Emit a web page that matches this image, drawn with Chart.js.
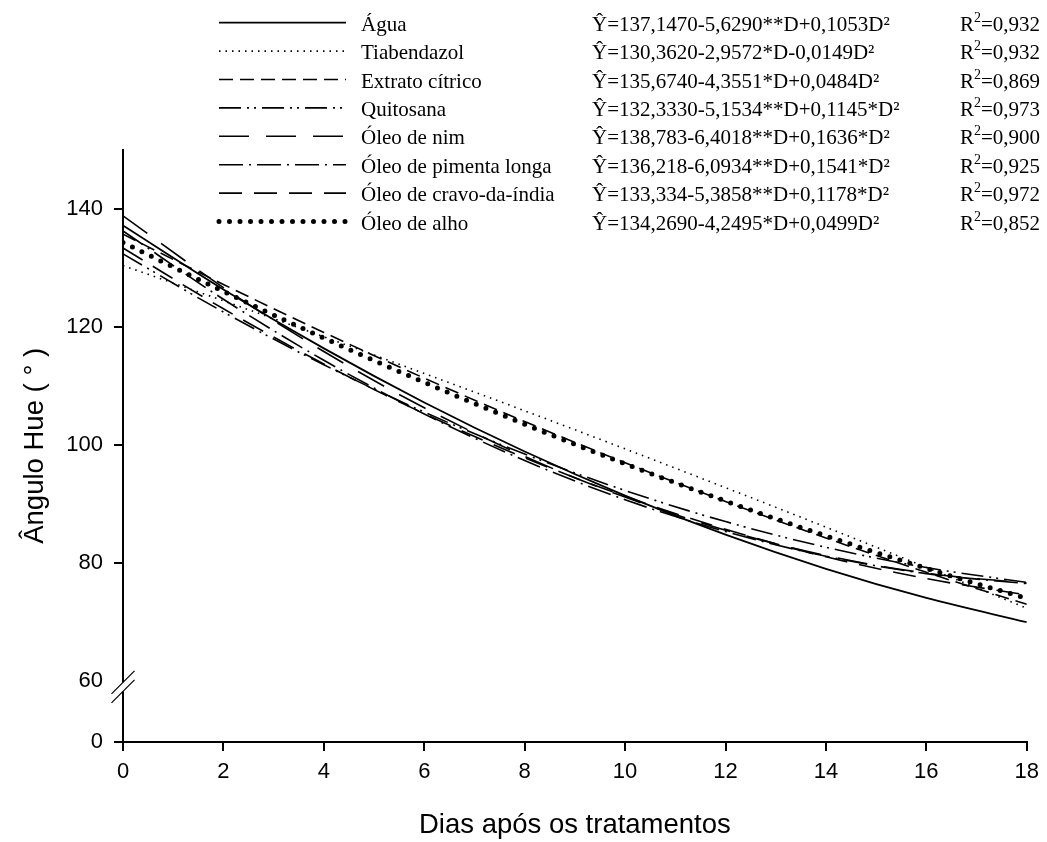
<!DOCTYPE html>
<html>
<head>
<meta charset="utf-8">
<title>Ângulo Hue</title>
<script src="https://cdn.jsdelivr.net/npm/chart.js@4.4.1/dist/chart.umd.min.js"></script>
<style>
  html, body { margin: 0; padding: 0; background: #fff; }
  #wrap { width: 1047px; height: 842px; }
</style>
</head>
<body>
<div id="wrap"><canvas id="grafico" width="1047" height="842"></canvas></div>
<script>
// dias após os tratamentos
var dias = [0, 2, 4, 6, 8, 10, 12, 14, 16, 18];

// ângulo hue ajustado de cada tratamento
var agua      = [137.15, 126.31, 116.32, 107.16, 98.85, 91.39, 84.76, 78.98, 74.04, 69.94];
var tiabend   = [130.36, 124.39, 118.29, 112.08, 105.75, 99.30, 92.73, 86.04, 79.23, 72.30];
var citrico   = [135.67, 127.16, 119.03, 111.29, 103.93, 96.96, 90.38, 84.19, 78.38, 72.96];
var quitosana = [132.33, 122.48, 113.55, 105.53, 98.43, 92.25, 86.98, 82.63, 79.19, 76.67];
var nim       = [138.78, 126.63, 115.79, 106.26, 98.04, 91.13, 85.52, 81.22, 78.24, 76.56];
var pimenta   = [136.22, 124.65, 114.31, 105.21, 97.33, 90.69, 85.29, 81.11, 78.17, 76.47];
var cravo     = [133.33, 123.03, 113.68, 105.26, 97.79, 91.26, 85.67, 81.02, 77.32, 74.56];
var alho      = [134.27, 125.97, 118.07, 110.57, 103.47, 96.76, 90.46, 84.56, 79.05, 73.95];

var series = [agua, tiabend, citrico, quitosana, nim, pimenta, cravo, alho];

var tratamentos = ['Água', 'Tiabendazol', 'Extrato cítrico', 'Quitosana', 'Óleo de nim',
                   'Óleo de pimenta longa', 'Óleo de cravo-da-índia', 'Óleo de alho'];

var equacoes = [
  'Ŷ=137,1470-5,6290**D+0,1053D²',
  'Ŷ=130,3620-2,9572*D-0,0149D²',
  'Ŷ=135,6740-4,3551*D+0,0484D²',
  'Ŷ=132,3330-5,1534**D+0,1145*D²',
  'Ŷ=138,783-6,4018**D+0,1636*D²',
  'Ŷ=136,218-6,0934**D+0,1541*D²',
  'Ŷ=133,334-5,3858**D+0,1178*D²',
  'Ŷ=134,2690-4,2495*D+0,0499D²'
];
var r2 = ['0,932', '0,932', '0,869', '0,973', '0,900', '0,925', '0,972', '0,852'];

var yTicks = [0, 60, 80, 100, 120, 140];

// estilo de traço de cada curva
var estilos = [
  { dash: [], w: 1.8, cap: 'butt' },
  { dash: [1.5, 5], w: 1.6, cap: 'butt' },
  { dash: [14, 7], w: 1.6, cap: 'butt' },
  { dash: [22, 6, 2, 5, 2, 6], w: 1.6, cap: 'butt' },
  { dash: [30, 17], w: 1.6, cap: 'butt' },
  { dash: [24, 6, 2, 6], w: 1.6, cap: 'butt' },
  { dash: [23, 12], w: 1.6, cap: 'butt' },
  { dash: [0, 10.5], w: 5, cap: 'round' }
];

// eixo y quebrado: de 0 a 60 comprimido, acima de 60 normal
var QUEBRA = 60;
var BASE = 49.64;
function escala(v) { return v >= QUEBRA ? v : BASE + v * (QUEBRA - BASE) / QUEBRA; }
function valorReal(u) { return u >= QUEBRA ? u : (u - BASE) * QUEBRA / (QUEBRA - BASE); }

var datasets = series.map(function(s, i) {
  return {
    label: tratamentos[i],
    data: dias.map(function(d, j) { return { x: d, y: escala(s[j]) }; }),
    borderColor: '#000',
    borderWidth: estilos[i].w,
    borderDash: estilos[i].dash,
    borderCapStyle: estilos[i].cap,
    cubicInterpolationMode: 'monotone',
    pointRadius: 0,
    fill: false
  };
});

var legendaPlugin = {
  id: 'legenda',
  afterDraw: function(chart) {
    var ctx = chart.ctx;
    ctx.save();
    ctx.fillStyle = '#000';
    ctx.strokeStyle = '#000';
    ctx.textBaseline = 'alphabetic';
    for (var i = 0; i < tratamentos.length; i++) {
      var y = 22.7 + i * 28.4;
      var ds = chart.data.datasets[i];
      ctx.beginPath();
      ctx.setLineDash(ds.borderDash);
      ctx.lineCap = ds.borderCapStyle;
      ctx.lineWidth = ds.borderWidth;
      ctx.moveTo(219, y);
      ctx.lineTo(346, y);
      ctx.stroke();
      ctx.setLineDash([]);

      ctx.font = '21px "Liberation Serif"';
      ctx.fillText(tratamentos[i], 361, y + 8);
      ctx.fillText(equacoes[i], 592, y + 8);

      var xr = 960;
      ctx.fillText('R', xr, y + 8);
      xr += ctx.measureText('R').width;
      ctx.font = '14px "Liberation Serif"';
      ctx.fillText('2', xr, y - 1);
      xr += ctx.measureText('2').width;
      ctx.font = '21px "Liberation Serif"';
      ctx.fillText('=' + r2[i], xr, y + 8);
    }
    ctx.restore();
  }
};

var quebraPlugin = {
  id: 'quebraEixo',
  afterDraw: function(chart) {
    var ctx = chart.ctx;
    var x0 = chart.chartArea.left;
    var yq = chart.scales.y.getPixelForValue(QUEBRA);
    ctx.save();
    ctx.fillStyle = '#fff';
    ctx.fillRect(x0 - 3, yq + 1.5, 6, 9);
    ctx.strokeStyle = '#000';
    ctx.lineWidth = 1.2;
    [yq + 1.5, yq + 10.5].forEach(function(c) {
      ctx.beginPath();
      ctx.moveTo(x0 - 11.5, c + 11.5);
      ctx.lineTo(x0 + 11.5, c - 11.5);
      ctx.stroke();
    });
    ctx.restore();
  }
};

var fonteEixo = { family: '"Liberation Sans", Arial, sans-serif', size: 22 };
var fonteTitulo = { family: '"Liberation Sans", Arial, sans-serif', size: 27.5 };

new Chart(document.getElementById('grafico').getContext('2d'), {
  type: 'line',
  data: { datasets: datasets },
  plugins: [legendaPlugin, quebraPlugin],
  options: {
    responsive: false,
    animation: false,
    devicePixelRatio: 1,
    layout: { padding: { top: 149.6, right: 20, left: 0, bottom: 0 } },
    plugins: { legend: { display: false }, tooltip: { enabled: false } },
    scales: {
      x: {
        type: 'linear',
        min: 0,
        max: 18,
        ticks: { stepSize: 2, color: '#000', font: fonteEixo, padding: 8 },
        grid: { drawOnChartArea: false, drawTicks: true, tickLength: 9, color: '#000', lineWidth: 2 },
        border: { display: true, color: '#000', width: 2 },
        title: {
          display: true,
          text: 'Dias após os tratamentos',
          color: '#000',
          font: fonteTitulo,
          padding: { top: 0, bottom: 0.5 }
        },
        afterFit: function(s) { s.height = 100; }
      },
      y: {
        type: 'linear',
        min: BASE,
        max: 150,
        afterBuildTicks: function(s) {
          s.ticks = yTicks.map(function(v) { return { value: escala(v) }; });
        },
        ticks: {
          color: '#000',
          font: fonteEixo,
          padding: 11,
          callback: function(val) { return Math.round(valorReal(val)); }
        },
        grid: {
          drawOnChartArea: false,
          drawTicks: true,
          tickLength: 9,
          lineWidth: 2,
          color: '#000',
          tickColor: function(c) {
            return (c.tick && c.tick.value === QUEBRA) ? 'rgba(0,0,0,0)' : '#000';
          }
        },
        border: { display: true, color: '#000', width: 2 },
        title: {
          display: true,
          text: 'Ângulo Hue ( ° )',
          color: '#000',
          font: fonteTitulo,
          padding: { top: 18.5, bottom: 0 }
        },
        afterFit: function(s) { s.width = 123; }
      }
    }
  }
});
</script>
</body>
</html>
